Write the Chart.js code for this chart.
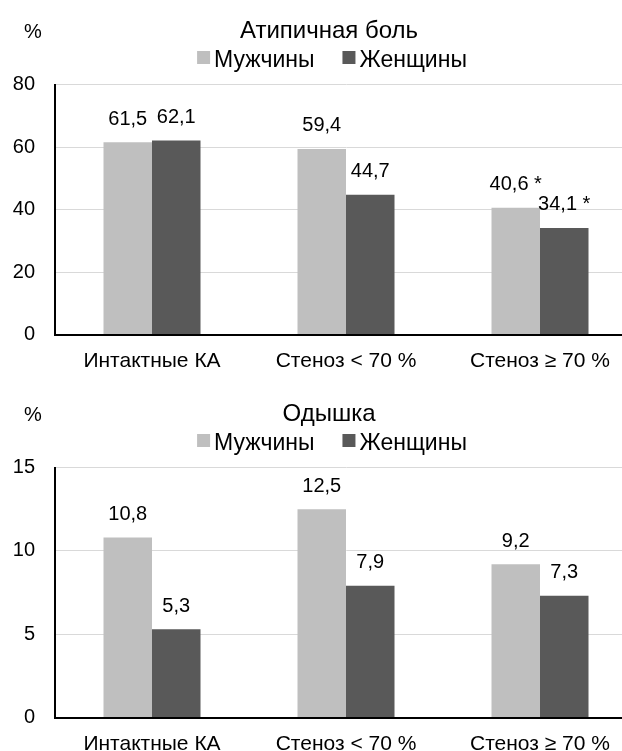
<!DOCTYPE html>
<html>
<head>
<meta charset="utf-8">
<script src="https://cdn.jsdelivr.net/npm/chart.js@4.4.1/dist/chart.umd.min.js"></script>
<style>
  html, body { margin: 0; padding: 0; background: #fff; overflow: hidden; }
  #wrap { width: 622px; height: 751px; overflow: hidden; position: relative; }
  .box { position: absolute; left: 0; }
</style>
</head>
<body>
<div id="wrap">
  <div class="box" style="top:0"><canvas id="pain" width="637" height="383"></canvas></div>
  <div class="box" style="top:383px"><canvas id="dyspnea" width="637" height="383"></canvas></div>
</div>
<script>
const categories = ["Интактные КА", "Стеноз < 70 %", "Стеноз ≥ 70 %"];
const seriesNames = ["Мужчины", "Женщины"];

const painMen = [61.5, 59.4, 40.6];
const painWomen = [62.1, 44.7, 34.1];
const painMenMarks = ["", "", " *"];
const painWomenMarks = ["", "", " *"];
const painTicks = [0, 20, 40, 60, 80];

const dyspneaMen = [10.8, 12.5, 9.2];
const dyspneaWomen = [5.3, 7.9, 7.3];
const dyspneaMenMarks = ["", "", ""];
const dyspneaWomenMarks = ["", "", ""];
const dyspneaTicks = [0, 5, 10, 15];

const colors = ["#bfbfbf", "#595959"];
const FONT = "'Liberation Sans', Arial, sans-serif";

Chart.defaults.font.family = FONT;
Chart.defaults.color = "#000";

// "%" unit, title and a compact legend above the plot
const header = {
  id: "header",
  afterDraw(chart, args, opts) {
    const ctx = chart.ctx;
    ctx.save();
    ctx.fillStyle = "#000";
    ctx.textBaseline = "alphabetic";
    ctx.font = "20px " + FONT;
    ctx.textAlign = "left";
    ctx.fillText("%", 24, 38);
    ctx.font = "24px " + FONT;
    ctx.textAlign = "center";
    ctx.fillText(opts.title, 329, 38);

    ctx.font = "23px " + FONT;
    const box = 13, gap = 4, space = 28;
    const items = chart.data.datasets.map(ds => ({text: ds.label, color: ds.backgroundColor, w: ctx.measureText(ds.label).width}));
    let total = 0;
    items.forEach((it, i) => { total += box + gap + it.w + (i ? space : 0); });
    let x = 332 - total / 2;
    ctx.textAlign = "left";
    items.forEach((it, i) => {
      if (i) x += space;
      ctx.fillStyle = it.color;
      ctx.fillRect(x, 51, box, box);
      x += box + gap;
      ctx.fillStyle = "#000";
      ctx.fillText(it.text, x, 66.5);
      x += it.w;
    });
    ctx.restore();
  }
};

// value above each bar, comma as decimal separator
const valueLabels = {
  id: "valueLabels",
  afterDatasetsDraw(chart) {
    const ctx = chart.ctx;
    ctx.save();
    ctx.font = "20px " + FONT;
    ctx.fillStyle = "#000";
    ctx.textAlign = "center";
    ctx.textBaseline = "middle";
    chart.data.datasets.forEach((ds, i) => {
      chart.getDatasetMeta(i).data.forEach((bar, j) => {
        const txt = String(ds.data[j]).replace(".", ",") + (ds.marks[j] || "");
        ctx.fillText(txt, bar.x, bar.y - 23);
      });
    });
    ctx.restore();
  }
};

function makeChart(id, title, men, women, menMarks, womenMarks, ticks) {
  return new Chart(document.getElementById(id), {
    type: "bar",
    data: {
      labels: categories,
      datasets: [
        {label: seriesNames[0], data: men, marks: menMarks, backgroundColor: colors[0]},
        {label: seriesNames[1], data: women, marks: womenMarks, backgroundColor: colors[1]}
      ]
    },
    options: {
      responsive: false,
      animation: false,
      events: [],
      categoryPercentage: 0.5,
      barPercentage: 1,
      layout: {padding: {top: 84.5, left: 0, right: 0, bottom: 0}},
      plugins: {
        legend: {display: false},
        tooltip: {enabled: false},
        header: {title: title}
      },
      scales: {
        x: {
          grid: {display: false, drawTicks: false},
          border: {color: "#000", width: 2},
          ticks: {font: {size: 21}, padding: 14, maxRotation: 0},
          afterFit: s => { s.height = 48.5; }
        },
        y: {
          min: ticks[0],
          max: ticks[ticks.length - 1],
          grid: {color: "#d9d9d9", lineWidth: 1, drawTicks: false},
          border: {color: "#000", width: 2},
          ticks: {font: {size: 20}, padding: 20},
          afterBuildTicks: s => { s.ticks = ticks.map(v => ({value: v})); },
          afterFit: s => { s.width = 55; }
        }
      }
    },
    plugins: [header, valueLabels]
  });
}

makeChart("pain", "Атипичная боль", painMen, painWomen, painMenMarks, painWomenMarks, painTicks);
makeChart("dyspnea", "Одышка", dyspneaMen, dyspneaWomen, dyspneaMenMarks, dyspneaWomenMarks, dyspneaTicks);
</script>
</body>
</html>
